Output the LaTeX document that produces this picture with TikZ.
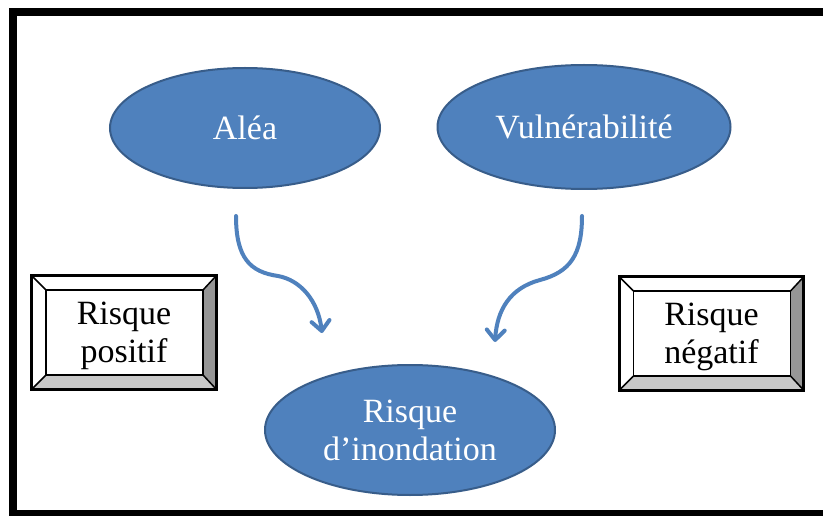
\documentclass[tikz,border=0pt]{standalone}
\usepackage{fontspec}
\setmainfont{Liberation Serif}
\usetikzlibrary{arrows.meta,shapes.geometric,calc}
\definecolor{blueFill}{HTML}{4F81BD}
\definecolor{blueLine}{HTML}{385D8A}
\definecolor{faceDark}{HTML}{969696}
\definecolor{faceLight}{HTML}{C8C8C8}
\tikzset{
  oval/.style={ellipse, fill=blueFill, draw=blueLine, line width=2pt, inner sep=0pt,
    text=white, align=center, font=\fontsize{34}{38}\selectfont},
  bevelbox/.style={rectangle, fill=white, inner sep=0pt, minimum width=184pt, minimum height=113pt,
    align=center, font=\fontsize{34}{38}\selectfont},
  flow/.style={draw=blueFill, line width=4pt, line cap=round,
    -{Straight Barb[length=10pt,width=18pt,line cap=round,line join=round]}},
}
\newcommand{\drawbevel}[1]{%
  \coordinate (#1-inw) at ($(#1.north west)+(14,14)$);
  \coordinate (#1-ine) at ($(#1.north east)+(-13,14)$);
  \coordinate (#1-ise) at ($(#1.south east)+(-13,-14)$);
  \coordinate (#1-isw) at ($(#1.south west)+(14,-14)$);
  \fill[faceDark] (#1.north east) -- (#1.south east) -- (#1-ise) -- (#1-ine) -- cycle;
  \fill[faceLight] (#1.south west) -- (#1.south east) -- (#1-ise) -- (#1-isw) -- cycle;
  \draw[line width=1.5pt] (#1-inw) rectangle (#1-ise);
  \draw[line width=1.5pt] (#1.north west) -- (#1-inw) (#1.north east) -- (#1-ine)
    (#1.south east) -- (#1-ise) (#1.south west) -- (#1-isw);
  \draw[line width=3pt] (#1.north west) rectangle (#1.south east);
}
\begin{document}
\begin{tikzpicture}[x=1pt,y=-1pt]
\useasboundingbox (0,0) rectangle (823,516);
\clip (0,0) rectangle (823,516);
\fill[white] (0,0) rectangle (823,516);
\draw[line width=8pt] (12.5,12.5) rectangle (830,514);

\node[oval, minimum width=270pt, minimum height=120pt] (alea) at (245,128) {Aléa};
\node[oval, minimum width=293pt, minimum height=124pt] (vuln) at (584,127) {Vulnérabilité};
\node[oval, minimum width=290pt, minimum height=130pt] (risk) at (410,430) {Risque\\d’inondation};

\node[bevelbox] (pos) at (124,332.5) {};
\drawbevel{pos}
\node[align=center, font=\fontsize{34}{38}\selectfont, inner sep=0pt] (posT) at ($(pos)+(0,3)$) {Risque\\positif};
\node[bevelbox] (neg) at (711.5,333.5) {};
\drawbevel{neg}
\node[align=center, font=\fontsize{34}{38}\selectfont, inner sep=0pt] (negT) at ($(neg)+(0,3)$) {Risque\\négatif};

\coordinate (a1) at (236,216);
\coordinate (a2) at (322,333);
\coordinate (v1) at (582,216);
\coordinate (v2) at (495,342);
\draw[flow] (a1) .. controls (236,258) and (250,272) .. (278,276) .. controls (300,280) and (318,300) .. (a2);
\draw[flow] (v1) .. controls (582,255) and (570,272) .. (540,280) .. controls (510,288) and (497,310) .. (v2);
\end{tikzpicture}
\end{document}
